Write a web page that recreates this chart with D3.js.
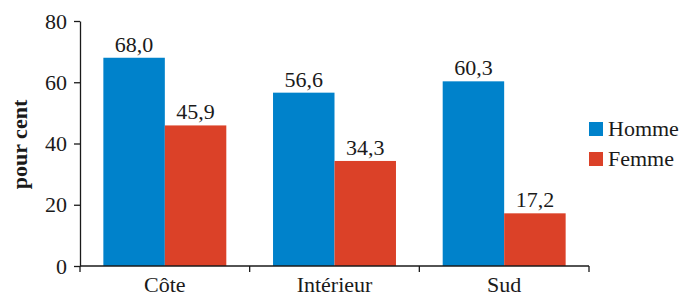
<!DOCTYPE html>
<html>
<head>
<meta charset="utf-8">
<script src="https://cdn.jsdelivr.net/npm/d3@7"></script>
<style>
  body { margin: 0; background: #fff; }
  svg, svg text { font-family: 'Liberation Serif', 'DejaVu Serif', serif !important; }
</style>
</head>
<body>
<svg id="chart" width="684" height="296"></svg>
<script>
var categories = ["Côte", "Intérieur", "Sud"];
var series = ["Homme", "Femme"];
var homme = [68.0, 56.6, 60.3];
var femme = [45.9, 34.3, 17.2];
var yTicks = [0, 20, 40, 60, 80];
var colors = ["#0082cb", "#db4128"];

var FONT = "'Liberation Serif', 'DejaVu Serif', serif";
var FS = "22px";
var INK = "#1a1a1a";

var data = categories.map(function(c, i) {
  return { cat: c, values: [homme[i], femme[i]] };
});

var svg = d3.select("#chart"),
    margin = { top: 21, right: 95, bottom: 30, left: 80 },
    width = +svg.attr("width") - margin.left - margin.right,
    height = +svg.attr("height") - margin.top - margin.bottom,
    g = svg.append("g").attr("transform", "translate(" + margin.left + "," + margin.top + ")");

var x0 = d3.scaleBand().domain(categories).range([0, width]).padding(0);
var x1 = d3.scaleBand().domain(series).range([0, x0.bandwidth()]).paddingInner(0).paddingOuter(0.38);
var y = d3.scaleLinear().domain([0, 80]).range([height, 0]);

var fmt = function(v) { return v.toFixed(1).replace(".", ","); };

// bars
var groups = g.selectAll(".grp")
    .data(data)
  .enter().append("g")
    .attr("class", "grp")
    .attr("transform", function(d) { return "translate(" + x0(d.cat) + ",0)"; });

groups.selectAll("rect")
    .data(function(d) { return d.values.map(function(v, i) { return { key: series[i], value: v }; }); })
  .enter().append("rect")
    .attr("x", function(d) { return x1(d.key); })
    .attr("y", function(d) { return y(d.value); })
    .attr("width", x1.bandwidth())
    .attr("height", function(d) { return height - y(d.value); })
    .attr("fill", function(d, i) { return colors[i]; });

groups.selectAll(".lbl")
    .data(function(d) { return d.values.map(function(v, i) { return { key: series[i], value: v }; }); })
  .enter().append("text")
    .attr("class", "lbl")
    .attr("x", function(d) { return x1(d.key) + x1.bandwidth() / 2; })
    .attr("y", function(d) { return y(d.value) - 6; })
    .attr("text-anchor", "middle")
    .text(function(d) { return fmt(d.value); });

// y axis
var yAxis = g.append("g")
    .call(d3.axisLeft(y).tickValues(yTicks).tickSize(6).tickSizeOuter(0).tickPadding(7));
yAxis.attr("font-family", null).attr("font-size", null);
yAxis.selectAll("text").attr("fill", INK);
yAxis.selectAll("line, path").attr("stroke", INK).attr("stroke-width", 1.3);

// x axis
var xAxis = g.append("g").attr("transform", "translate(0," + height + ")");
xAxis.append("line")
    .attr("x1", 0).attr("x2", width)
    .attr("stroke", INK).attr("stroke-width", 1.3);
xAxis.selectAll(".tk")
    .data(categories.concat([null]))
  .enter().append("line")
    .attr("x1", function(d) { return d === null ? width : x0(d); })
    .attr("x2", function(d) { return d === null ? width : x0(d); })
    .attr("y1", 0).attr("y2", 6)
    .attr("stroke", INK).attr("stroke-width", 1.3);
xAxis.selectAll(".xl")
    .data(categories)
  .enter().append("text")
    .attr("x", function(d) { return x0(d) + x0.bandwidth() / 2; })
    .attr("y", 26)
    .attr("text-anchor", "middle")
    .text(function(d) { return d; });

// y label
svg.append("text")
    .attr("transform", "translate(27," + (margin.top + height / 2 + 1) + ") rotate(-90)")
    .attr("text-anchor", "middle")
    .style("font-weight", "bold")
    .text("pour cent");

// legend
var legend = svg.append("g").attr("transform", "translate(589,122)");
var li = legend.selectAll(".li")
    .data(series)
  .enter().append("g")
    .attr("transform", function(d, i) { return "translate(0," + i * 30 + ")"; });
li.append("rect")
    .attr("width", 14).attr("height", 14)
    .attr("fill", function(d, i) { return colors[i]; });
li.append("text")
    .attr("x", 19).attr("y", 14)
    .text(function(d) { return d; });

svg.selectAll("text")
    .style("font-family", FONT)
    .style("font-size", FS)
    .attr("fill", INK);
</script>
</body>
</html>
